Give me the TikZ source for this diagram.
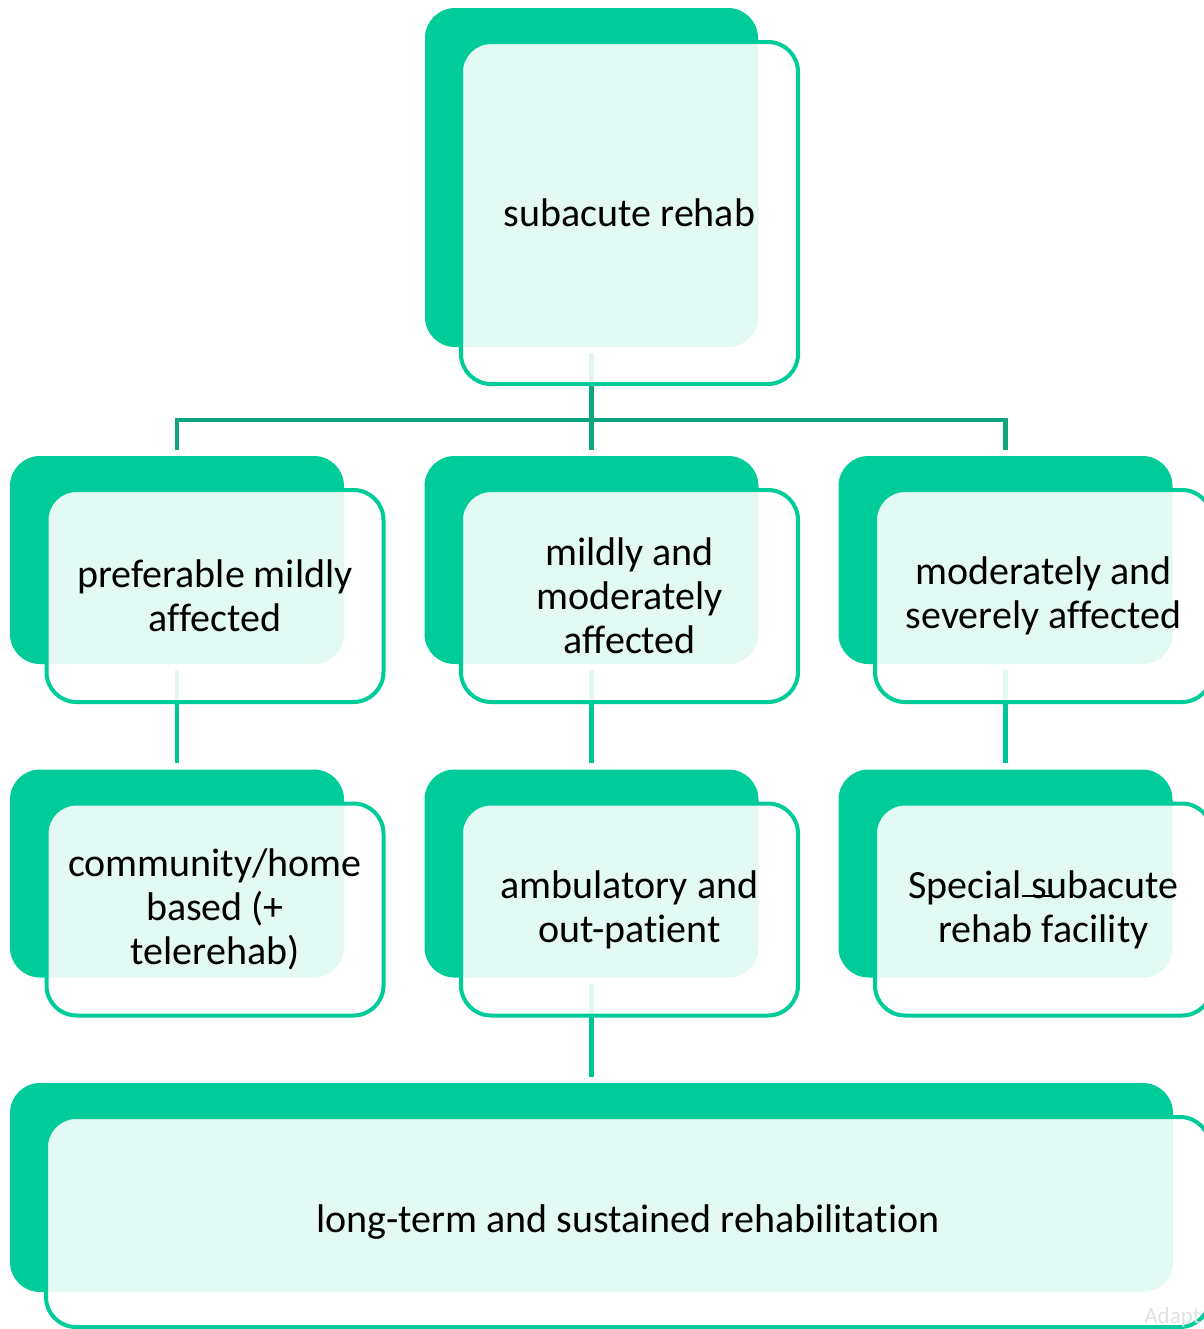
\documentclass[tikz,border=0pt]{standalone}
\usepackage{fontspec}
\setmainfont{Carlito}[Ligatures=NoCommon]
\definecolor{boxgreen}{HTML}{00CC99}
\definecolor{linkdark}{HTML}{0CA57F}
\definecolor{linkgreen}{HTML}{00C596}
\definecolor{notegray}{HTML}{E2E2E2}

\tikzset{
  backbox/.style={fill=boxgreen, draw=none, rounded corners=15pt, inner sep=0pt},
  frontbox/.style={draw=boxgreen, line width=2pt, fill=white, fill opacity=0.89,
    text opacity=1, rounded corners=15pt, inner sep=0pt, align=center,
    font=\fontsize{20pt}{22pt}\selectfont},
  smallback/.style={backbox, minimum width=167pt, minimum height=104pt},
  smallfront/.style={frontbox, minimum width=168.5pt, minimum height=106pt},
  upperlink/.style={draw=linkdark, line width=2.4pt},
  lowerlink/.style={draw=linkgreen, line width=2.4pt},
}

\begin{document}
\begin{tikzpicture}[x=0.5pt, y=-0.5pt]
  \useasboundingbox (0,0) rectangle (1204,1329);
  \clip (0,0) rectangle (1204,1329);

  % solid back panels
  \node[backbox, minimum width=166.5pt, minimum height=169.5pt] (topback) at (591.5,177.5) {};
  \node[smallback] (b1) at (177,560) {};
  \node[smallback] (b2) at (591.5,560) {};
  \node[smallback] (b3) at (1005.5,560) {};
  \node[smallback] (c1) at (177,873.5) {};
  \node[smallback] (c2) at (591.5,873.5) {};
  \node[smallback] (c3) at (1005.5,873.5) {};
  \node[backbox, minimum width=581.5pt, minimum height=104.5pt] (lastback) at (591.5,1187.5) {};

  % connectors
  \coordinate (bus) at (591.5,420);
  \draw[upperlink] ([yshift=-3pt]topback.south) -- ([yshift=3pt]b2.north);
  \draw[upperlink, line join=miter] ([yshift=3pt]b1.north) |- (bus) -| ([yshift=3pt]b3.north);
  \draw[lowerlink] ([yshift=-3pt]b1.south) -- ([yshift=3pt]c1.north);
  \draw[lowerlink] ([yshift=-3pt]b2.south) -- ([yshift=3pt]c2.north);
  \draw[lowerlink] ([yshift=-3pt]b3.south) -- ([yshift=3pt]c3.north);
  \draw[lowerlink] ([yshift=-3pt]c2.south) -- ([yshift=3pt]lastback.north);

  % translucent front panels with labels
  \node[frontbox, minimum width=168.5pt, minimum height=171pt] (top) at (629.5,213) {subacute rehab};
  \node[smallfront] (m1) at (215,596) {preferable mildly\\affected};
  \node[smallfront] (m2) at (629.5,596) {mildly and\\moderately\\affected};
  \node[smallfront] (m3) at (1043.5,596) {moderately and\\severely affected};
  \node[smallfront] (s1) at (215,909.5) {community/home\\based (+\\telerehab)};
  \node[smallfront] (s2) at (629.5,909.5) {ambulatory and\\out-patient};
  \node[smallfront] (s3) at (1043.5,909.5) {Special\rlap{\raisebox{0.8pt}{\rule{15pt}{1pt}}}\ subacute\\rehab facility};
  \node[frontbox, minimum width=582pt, minimum height=105pt] (last) at (628,1222) {long-term and sustained rehabilitation};

  % faint note in the corner
  \node[anchor=base west, inner sep=0pt, text=notegray, font=\fontsize{11.5pt}{13pt}\selectfont] (note) at (1144,1323) {Adapt};
\end{tikzpicture}
\end{document}
